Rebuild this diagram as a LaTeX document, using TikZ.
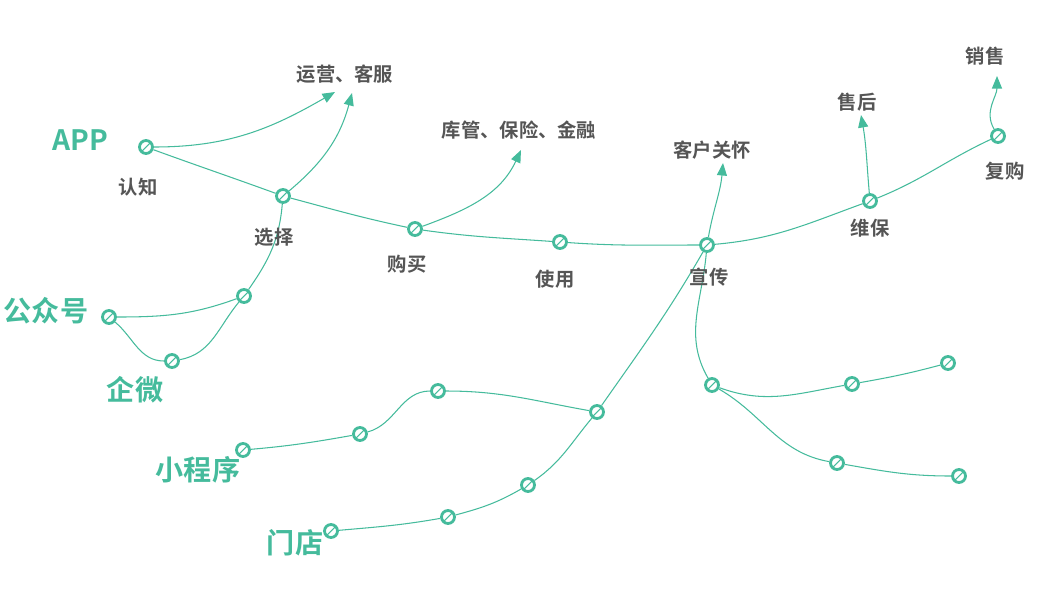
\documentclass[tikz,border=0pt]{standalone}
\usepackage{fontspec}
\newfontfamily\cjk{Noto Sans CJK SC}[BoldFont={Noto Sans CJK SC Bold}]
\usetikzlibrary{arrows.meta}
\definecolor{jade}{HTML}{45BB9C}
\definecolor{ink}{HTML}{555555}
\tikzset{
  dot/.style={circle,draw=jade,line width=1.6pt,fill=white,inner sep=0pt,minimum size=2.6mm,
    path picture={\draw[jade,line width=.6pt] (path picture bounding box.south west) -- (path picture bounding box.north east);}},
  lnk/.style={jade,line width=.6pt},
  arr/.style={lnk,-{Triangle[length=2.5mm,width=2mm]}},
  lbl/.style={text=ink,font=\cjk\bfseries\fontsize{11}{11}\selectfont},
  big/.style={text=jade,font=\cjk\bfseries\fontsize{16}{16}\selectfont}
}
\begin{document}
\begin{tikzpicture}[x=0.02cm,y=-0.02cm]
			\useasboundingbox (0,0) rectangle (1050,589);
			% stages
			\node [dot] (app) at (146,147) {};
			\node [dot] (pick) at (283,196) {};
			\node [dot] (buy) at (415,229) {};
			\node [dot] (use) at (560,242) {};
			\node [dot] (promo) at (707,245) {};
			\node [dot] (care) at (870,201) {};
			\node [dot] (rebuy) at (998,136) {};
			\node [dot] (gzh) at (109,317) {};
			\node [dot] (g2) at (244,296) {};
			\node [dot] (qw) at (172,361) {};
			\node [dot] (xcx) at (243,450) {};
			\node [dot] (x2) at (360,434) {};
			\node [dot] (x3) at (438,391) {};
			\node [dot] (x4) at (597,412) {};
			\node [dot] (md) at (331,531) {};
			\node [dot] (m2) at (448,517) {};
			\node [dot] (m3) at (528,485) {};
			\node [dot] (r1) at (712,385) {};
			\node [dot] (r2) at (852,384) {};
			\node [dot] (r3) at (948,363) {};
			\node [dot] (r4) at (837,463) {};
			\node [dot] (r5) at (959,476) {};
			\coordinate (t1) at (335,92);
			\coordinate (t2) at (352,93);
			\coordinate (t3) at (521,150);
			\coordinate (t4) at (723,163);
			\coordinate (t5) at (861,115);
			\coordinate (t6) at (997,76);
			% main line
			\draw [lnk] (app) to[out=-20,in=160] (pick) to[out=-15,in=168] (buy) to[out=-8,in=176] (use) to[out=-4,in=180] (promo) to[out=5,in=200] (care) to[out=22,in=205] (rebuy);
			\draw [lnk] (gzh) to[out=0,in=200] (g2);
			\draw [lnk] (gzh) to[out=-40,in=180] (qw) to[out=10,in=-130] (g2) to[out=55,in=-95] (pick);
			\draw [lnk] (xcx) to[out=5,in=190] (x2) to[out=15,in=180] (x3) to[out=0,in=170] (x4) to[out=55,in=-120] (promo);
			\draw [lnk] (md) to[out=5,in=190] (m2) to[out=15,in=210] (m3) to[out=35,in=-130] (x4);
			\draw [lnk] (promo) to[out=-95,in=120] (r1) to[out=-20,in=190] (r2) to[out=10,in=195] (r3);
			\draw [lnk] (r1) to[out=-30,in=170] (r4) to[out=-10,in=180] (r5);
			% arrows
			\draw [arr] (app) to[out=0,in=-150] (t1);
			\draw [arr] (pick) to[out=40,in=-105] (t2);
			\draw [arr] (buy) to[out=20,in=-115] (t3);
			\draw [arr] (promo) to[out=80,in=-95] (t4);
			\draw [arr] (care) to[out=95,in=-80] (t5);
			\draw [arr] (rebuy) to[out=120,in=-90] (t6);
			% labels
			\node [big] (lapp) at (80,140) {APP};
			\node [big] (lgzh) at (46,311) {公众号};
			\node [big] (lqw) at (135,390) {企微};
			\node [big] (lxcx) at (198,470) {小程序};
			\node [big] (lmd) at (295,543) {门店};
			\node [lbl] (l1) at (138,187) {认知};
			\node [lbl] (l2) at (274,237) {选择};
			\node [lbl] (l3) at (407,264) {购买};
			\node [lbl] (l4) at (555,279) {使用};
			\node [lbl] (l5) at (709,277) {宣传};
			\node [lbl] (l6) at (870,228) {维保};
			\node [lbl] (l7) at (1005,171) {复购};
			\node [lbl] (l8) at (345,74) {运营、客服};
			\node [lbl] (l9) at (519,130) {库管、保险、金融};
			\node [lbl] (l10) at (712,150) {客户关怀};
			\node [lbl] (l11) at (857,102) {售后};
			\node [lbl] (l12) at (985,56) {销售};
		\end{tikzpicture}
\end{document}
